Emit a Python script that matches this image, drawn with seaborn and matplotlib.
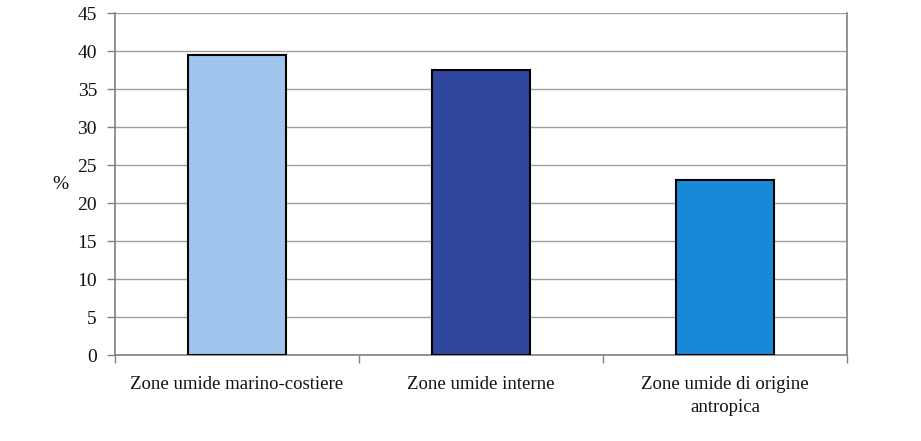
import matplotlib
matplotlib.use("Agg")
import matplotlib.pyplot as plt
import seaborn as sns
import pandas as pd

categories = ["Zone umide marino-costiere", "Zone umide interne", "Zone umide di origine\nantropica"]
values = [39.5, 37.5, 23.0]
colors = ["#9EC6EC", "#2E479C", "#1889D6"]
yticks = [0, 5, 10, 15, 20, 25, 30, 35, 40, 45]

sns.set_theme(style="white")
plt.rcParams['font.family'] = ['Liberation Serif', 'DejaVu Serif']

df = pd.DataFrame({"cat": categories, "val": values})

fig = plt.figure(figsize=(9.21, 4.41), dpi=100)
ax = fig.add_axes([115/921, 1 - 355/441, (847-115)/921, (355-13)/441])

sns.barplot(data=df, x="cat", y="val", hue="cat", palette=colors, width=0.4,
            saturation=1, edgecolor="black", linewidth=1.5, legend=False, ax=ax, zorder=3)

ax.set_ylim(0, 45)
ax.set_xlim(-0.5, 2.5)
ax.set_yticks(yticks)
ax.set_yticklabels([str(t) for t in yticks], fontsize=14, color="#111111")
ax.yaxis.grid(True, color="#a0a0a0", linewidth=1, zorder=0)
ax.set_axisbelow(True)

# x ticks at category boundaries, labels in between
ax.set_xticks([-0.5, 0.5, 1.5, 2.5])
ax.set_xticklabels([])
ax.set_xticks([0, 1, 2], minor=True)
ax.set_xticklabels(categories, minor=True, fontsize=13.5, color="#111111", linespacing=1.5)
ax.tick_params(axis="x", which="minor", length=0, pad=15)
ax.tick_params(axis="x", which="major", direction="out", length=6, width=1, color="#808080", bottom=True)
ax.tick_params(axis="y", direction="out", length=6, width=1, color="#808080", left=True, pad=7)

ax.set_xlabel("")
ax.set_ylabel("%", fontsize=14, rotation=0, labelpad=12, va="center", color="#111111")

for side in ["left", "bottom", "right"]:
    ax.spines[side].set_visible(True)
    ax.spines[side].set_color("#808080")
    ax.spines[side].set_linewidth(1.2)
ax.spines["top"].set_visible(False)

fig.savefig("out.png", dpi=100)
